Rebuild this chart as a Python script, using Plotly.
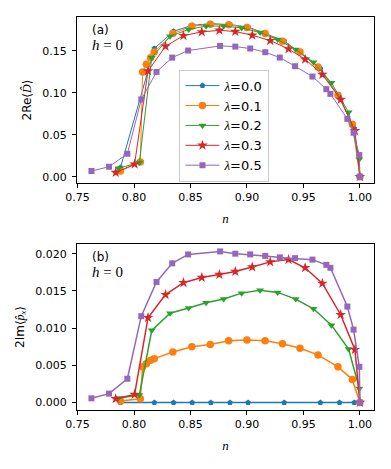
"""Order parameters vs filling n for several lambda values (two stacked panels)."""

import plotly.graph_objects as go
from plotly.subplots import make_subplots

# ---- data ----
LAMBDAS = ["0.0", "0.1", "0.2", "0.3", "0.5"]

n_l00 = [0.788, 0.818, 0.835, 0.8515, 0.868, 0.885, 0.901, 0.933, 0.965, 0.982, 0.995, 1.0]
re_l00 = [0.011, 0.153, 0.1735, 0.1806, 0.1826, 0.1814, 0.1786, 0.162, 0.129, 0.094, 0.0576, 0.0]
im_l00 = [0.0, 0.0, 0.0, 0.0, 0.0, 0.0, 0.0, 0.0, 0.0, 0.0, 0.0, 0.0]

n_l01 = [0.788, 0.8056, 0.8076, 0.8109, 0.8147, 0.8179, 0.8344, 0.8512, 0.8675,
         0.8838, 0.9000, 0.9161, 0.9315, 0.9470, 0.9629, 0.9806, 0.9933, 1.0]
re_l01 = [0.0068, 0.0175, 0.125, 0.134, 0.142, 0.1488, 0.1707, 0.1794, 0.1818,
          0.1814, 0.1779, 0.1707, 0.1615, 0.1488, 0.131, 0.0973, 0.0627, 0.0]
im_l01 = [0.0002, 0.0005, 0.0048, 0.0052, 0.0057, 0.0059, 0.0068, 0.0075, 0.0078,
          0.0083, 0.0084, 0.0083, 0.0079, 0.0073, 0.0064, 0.0048, 0.0031, 0.0]

n_l02 = [0.7864, 0.8047, 0.8157, 0.8319, 0.8484, 0.8638, 0.8794, 0.8953,
         0.9116, 0.9272, 0.9432, 0.9589, 0.9748, 0.9900, 0.9995, 1.0]
re_l02 = [0.010, 0.0171, 0.142, 0.1675, 0.1757, 0.1796, 0.1798, 0.1775,
          0.1719, 0.1636, 0.1517, 0.1366, 0.112, 0.077, 0.0207, 0.0]
im_l02 = [0.0006, 0.0010, 0.0097, 0.0120, 0.0127, 0.0134, 0.0139, 0.0147,
          0.0151, 0.0148, 0.0139, 0.0126, 0.0104, 0.0072, 0.0019, 0.0]

n_l03 = [0.7838, 0.8005, 0.8124, 0.8279, 0.8438, 0.8600, 0.8756, 0.8897,
         0.9047, 0.9206, 0.9368, 0.9515, 0.9668, 0.9830, 0.9956, 1.0]
re_l03 = [0.005, 0.015, 0.126, 0.1556, 0.1683, 0.1727, 0.1746, 0.1732,
          0.1687, 0.1623, 0.1524, 0.1401, 0.1219, 0.0921, 0.0548, 0.0]
im_l03 = [0.0005, 0.0011, 0.0114, 0.0145, 0.0161, 0.0168, 0.0172, 0.0176,
          0.0182, 0.0189, 0.0192, 0.0181, 0.0160, 0.0118, 0.0071, 0.0]

n_l05 = [0.7623, 0.7779, 0.7941, 0.8064, 0.8199, 0.8338, 0.8479, 0.8762, 0.8897, 0.9029,
         0.9162, 0.9291, 0.9426, 0.9580, 0.9703, 0.9739, 0.9889, 0.9944, 0.9995, 1.0]
re_l05 = [0.0068, 0.0119, 0.0274, 0.0921, 0.125, 0.1421, 0.1505, 0.156, 0.1552, 0.1529,
          0.1485, 0.1421, 0.1318, 0.1195, 0.1044, 0.0988, 0.069, 0.0524, 0.0258, 0.0]
im_l05 = [0.00057, 0.0012, 0.0032, 0.0116, 0.0162, 0.0187, 0.0199, 0.0203, 0.0200, 0.0199,
          0.0197, 0.0195, 0.0194, 0.0192, 0.0185, 0.0181, 0.0129, 0.0098, 0.0048, 0.0]

X_TICKS = [0.75, 0.80, 0.85, 0.90, 0.95, 1.00]
YA_TICKS = [0.00, 0.05, 0.10, 0.15]
YB_TICKS = [0.000, 0.005, 0.010, 0.015, 0.020]

# ---- styling ----
COLORS = ["#1f77b4", "#ff7f0e", "#2ca02c", "#d62728", "#9467bd"]
SYMBOLS = ["pentagon", "circle", "triangle-down", "star", "square"]
SIZES = [6, 7.5, 7, 8, 6]
SANS = "DejaVu Sans"
SERIF = "Liberation Serif"

series = [
    (n_l00, re_l00, im_l00),
    (n_l01, re_l01, im_l01),
    (n_l02, re_l02, im_l02),
    (n_l03, re_l03, im_l03),
    (n_l05, re_l05, im_l05),
]

fig = make_subplots(rows=2, cols=1)

for i, (n_vals, re_vals, im_vals) in enumerate(series):
    name = f"<span style='font-family:{SERIF}'><i>λ</i></span>={LAMBDAS[i]}"
    fig.add_trace(go.Scatter(
        x=n_vals, y=re_vals, mode="lines+markers", name=name,
        line={"color": COLORS[i], "width": 1},
        marker={"symbol": SYMBOLS[i], "size": SIZES[i], "color": COLORS[i]},
        showlegend=True,
    ), row=1, col=1)
    fig.add_trace(go.Scatter(
        x=n_vals, y=im_vals, mode="lines+markers", name=name,
        line={"color": COLORS[i], "width": 1.5},
        marker={"symbol": SYMBOLS[i], "size": SIZES[i], "color": COLORS[i]},
        showlegend=False,
    ), row=2, col=1)

axis_common = {
    "showline": True,
    "linecolor": "black",
    "linewidth": 1,
    "mirror": True,
    "ticks": "outside",
    "ticklen": 4,
    "tickwidth": 1,
    "tickcolor": "black",
    "showgrid": False,
    "zeroline": False,
    "automargin": False,
    "tickfont": {"family": SANS, "size": 11, "color": "black"},
}

x_title = {"text": "<i>n</i>", "font": {"family": SERIF, "size": 13, "color": "black"}, "standoff": 10}

fig.update_xaxes(
    range=[0.7495, 1.0125], tickvals=X_TICKS,
    ticktext=[f"{v:.2f}" for v in X_TICKS],
    title=x_title, **axis_common,
)
fig.update_layout(
    xaxis={"domain": [0, 1]},
    xaxis2={"domain": [0, 1]},
    yaxis={
        "domain": [0.5776, 1.0],
        "range": [-0.0075, 0.1905],
        "tickvals": YA_TICKS,
        "ticktext": [f"{v:.2f}" for v in YA_TICKS],
        "ticklabelstandoff": 3,
        "title": {
            "text": f"2Re⟨<span style='font-family:{SERIF}'><i>D̂</i></span>⟩",
            "font": {"family": SANS, "size": 12, "color": "black"},
            "standoff": 8,
        },
        **axis_common,
    },
    yaxis2={
        "domain": [0.0, 0.4224],
        "range": [-0.001, 0.0213],
        "tickvals": YB_TICKS,
        "ticktext": [f"{v:.3f}" for v in YB_TICKS],
        "ticklabelstandoff": 3,
        "title": {
            "text": f"2Im⟨<span style='font-family:{SERIF}'><i>p̂</i><sub><i>x</i></sub></span>⟩",
            "font": {"family": SANS, "size": 12, "color": "black"},
            "standoff": 8,
        },
        **axis_common,
    },
)

# panel labels
for ref, tag, y_tag, y_h in [("", "(a)", 0.92, 0.83), ("2", "(b)", 0.924, 0.83)]:
    fig.add_annotation(
        xref=f"x{ref} domain", yref=f"y{ref} domain", x=0.045, y=y_tag,
        text=tag, showarrow=False, xanchor="left", yanchor="middle",
        font={"family": SANS, "size": 12, "color": "black"},
    )
    fig.add_annotation(
        xref=f"x{ref} domain", yref=f"y{ref} domain", x=0.045, y=y_h,
        text="<i>h</i> = 0", showarrow=False, xanchor="left", yanchor="middle",
        font={"family": SERIF, "size": 15, "color": "black"},
    )

# page body keeps an 8px default margin, so the figure is 8px smaller
fig.update_layout(
    width=383,
    height=461,
    margin={"l": 69, "r": 17, "t": 9, "b": 59},
    paper_bgcolor="white",
    plot_bgcolor="white",
    font={"family": SANS, "size": 11, "color": "black"},
    legend={
        "x": 0.345, "y": 0.866, "xanchor": "left", "yanchor": "top",
        "bgcolor": "rgba(255,255,255,0.8)",
        "bordercolor": "#cccccc", "borderwidth": 1,
        "font": {"family": SANS, "size": 13, "color": "black"},
        "tracegroupgap": 0,
        "itemwidth": 34,
    },
    showlegend=True,
)

fig.write_html("out.html")
